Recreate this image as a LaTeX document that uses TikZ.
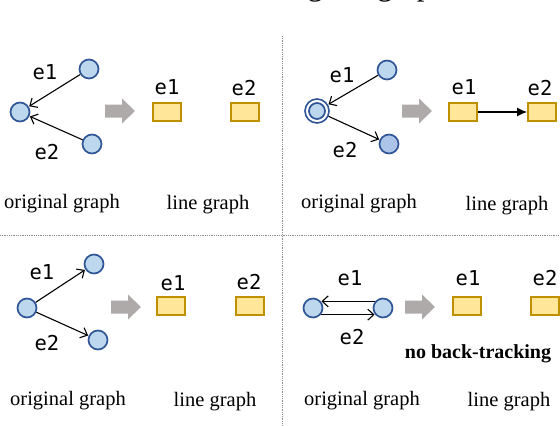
\documentclass[tikz,border=0pt]{standalone}
\usepackage{fontspec}
\setmainfont{Liberation Serif}
\newfontfamily\lblfont{DejaVu Sans Mono}
\usetikzlibrary{arrows.meta}
\definecolor{cfill}{HTML}{BDD7EE}
\definecolor{cfilltwo}{RGB}{172,196,232}
\definecolor{cstroke}{HTML}{2F5597}
\definecolor{bfill}{HTML}{FFE699}
\definecolor{bstroke}{HTML}{BF9000}
\definecolor{garrowc}{HTML}{AEAAAA}
\definecolor{divc}{HTML}{8C8C8C}
\begin{document}
\begin{tikzpicture}[x=1pt,y=-1pt,
  vtx/.style={circle,draw=cstroke,fill=cfill,line width=1.7pt,minimum size=19pt,inner sep=0pt},
  ebox/.style={rectangle,draw=bstroke,fill=bfill,line width=2pt,minimum width=28pt,minimum height=18pt,inner sep=0pt},
  elab/.style={font=\lblfont\fontsize{20.5}{20.5}\selectfont,inner sep=0pt},
  capt/.style={font=\fontsize{20.5}{22}\selectfont,inner sep=0pt,anchor=base},
  edge/.style={-{Straight Barb[length=6pt,width=11pt]},line width=1.1pt,shorten >=0.5pt},
  ledge/.style={-{Latex[length=10pt,width=9pt]},line width=1.1pt},
  divider/.style={divc,densely dotted,line width=0.8pt},
  garr/.pic={\fill[garrowc] (0,-6.5) -- (17,-6.5) -- (17,-12.5) -- (30,0) -- (17,12.5) -- (17,6.5) -- (0,6.5) -- cycle;}
]
\useasboundingbox (0,0) rectangle (560,426);

% cut-off title at the top
\node[font=\fontsize{31}{31}\selectfont,anchor=base west,inner sep=0pt] (ttl) at (273,-4.5) {original graph};

% dividers
\coordinate (vtop) at (282,36);
\coordinate (vbot) at (282,426);
\coordinate (hl) at (0,235);
\coordinate (hr) at (560,235);
\draw[divider] (vtop) -- (vbot);
\draw[divider] (hl) -- (hr);

% ---------------- panel 1 ----------------
\node[vtx] (a1) at (89,69) {};
\node[vtx] (a0) at (20,112) {};
\node[vtx] (a2) at (92,144) {};
\draw[edge] (a1) -- (a0);
\draw[edge] (a2) -- (a0);
\node[elab] (a1l) at (45,72) {e1};
\node[elab] (a2l) at (47,152) {e2};
\pic at (105,111) {garr};
\node[ebox] (ab1) at (167,112) {};
\node[ebox] (ab2) at (245,112) {};
\node[elab] (ab1l) at (167,87) {e1};
\node[elab] (ab2l) at (244,88) {e2};
\node[capt] (ac1) at (62,208) {original graph};
\node[capt] (ac2) at (208,209) {line graph};

% ---------------- panel 2 ----------------
\node[vtx] (b1) at (387,70) {};
\node[circle,draw=cstroke,fill=white,line width=1.6pt,minimum size=24pt,inner sep=0pt] (b0) at (317,111) {};
\node[vtx,minimum size=16pt] (b0i) at (317,111) {};
\node[vtx,fill=cfilltwo] (b2) at (389,144) {};
\draw[edge] (b1) -- (b0);
\draw[edge] (b0) -- (b2);
\node[elab] (b1l) at (342,75) {e1};
\node[elab] (b2l) at (345,150) {e2};
\pic at (402,111) {garr};
\node[ebox] (bb1) at (463,112) {};
\node[ebox] (bb2) at (542,112) {};
\draw[ledge] (bb1) -- (bb2);
\node[elab] (bb1l) at (464,87) {e1};
\node[elab] (bb2l) at (540,88) {e2};
\node[capt] (bc1) at (359,208) {original graph};
\node[capt] (bc2) at (507,210) {line graph};

% ---------------- panel 3 ----------------
\node[vtx] (c0) at (27,308) {};
\node[vtx] (c1) at (94,264) {};
\node[vtx] (c2) at (98,340) {};
\draw[edge] (c0) -- (c1);
\draw[edge] (c0) -- (c2);
\node[elab] (c1l) at (42,272) {e1};
\node[elab] (c2l) at (47,343) {e2};
\pic at (111,307) {garr};
\node[ebox] (cb1) at (171,306) {};
\node[ebox] (cb2) at (250,306) {};
\node[elab] (cb1l) at (173,283) {e1};
\node[elab] (cb2l) at (249,282) {e2};
\node[capt] (cc1) at (68,405) {original graph};
\node[capt] (cc2) at (215,406) {line graph};

% ---------------- panel 4 ----------------
\node[vtx] (d0) at (313,308) {};
\node[vtx] (d1) at (383,308) {};
\draw[edge] (d1.140) -- (d0.40);
\draw[edge] (d0.-40) -- (d1.-140);
\node[elab] (d1l) at (350,278) {e1};
\node[elab] (d2l) at (352,337) {e2};
\pic at (405,307) {garr};
\node[ebox] (db1) at (467,306) {};
\node[ebox] (db2) at (545,306) {};
\node[elab] (db1l) at (468,278) {e1};
\node[elab] (db2l) at (545,278) {e2};
\node[capt,font=\bfseries\fontsize{20}{22}\selectfont] (dnb) at (478,358) {no back-tracking};
\node[capt] (dc1) at (362,405) {original graph};
\node[capt] (dc2) at (509,406) {line graph};
\end{tikzpicture}
\end{document}
